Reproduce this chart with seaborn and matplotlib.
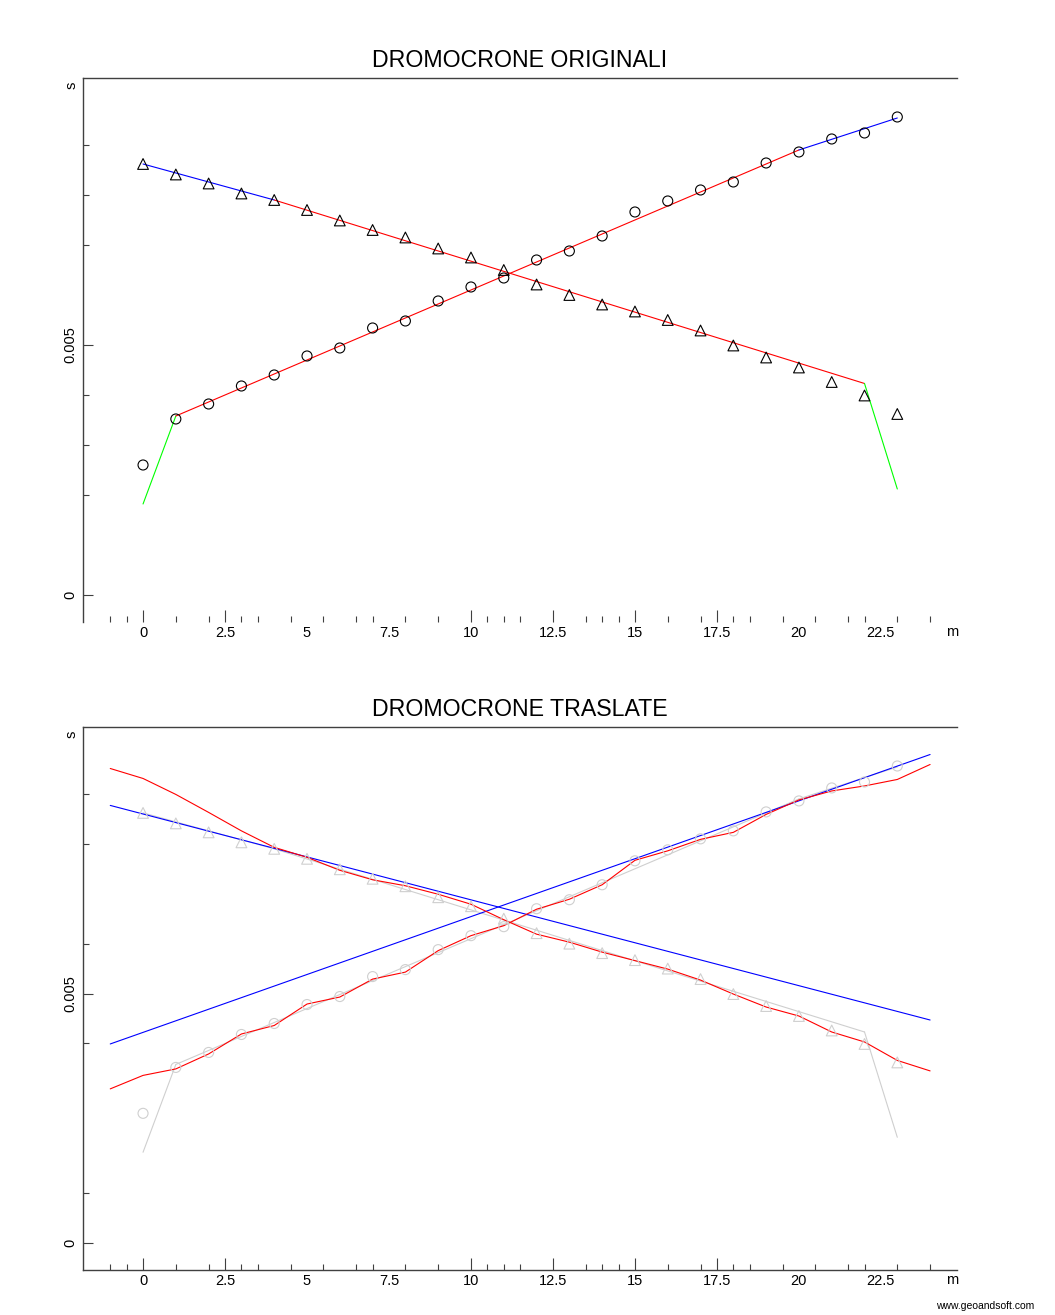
import seaborn as sns
import matplotlib.pyplot as plt

sns.set_theme(style="white")
plt.rcParams['font.family'] = ['Liberation Sans', 'DejaVu Sans']
plt.rcParams['text.color'] = 'black'

# tempi di primo arrivo (s), geofoni ogni 1 m
geofoni = list(range(24))
t_andata = [0.00260, 0.00352, 0.00382, 0.00418, 0.00440, 0.00478, 0.00494, 0.00534,
            0.00548, 0.00588, 0.00616, 0.00634, 0.00670, 0.00688, 0.00718, 0.00766,
            0.00788, 0.00810, 0.00826, 0.00864, 0.00886, 0.00912, 0.00924, 0.00956]
t_ritorno = [0.00862, 0.00841, 0.00823, 0.00803, 0.00790, 0.00770, 0.00749, 0.00730,
             0.00715, 0.00693, 0.00675, 0.00650, 0.00621, 0.00600, 0.00581, 0.00567,
             0.00550, 0.00529, 0.00499, 0.00475, 0.00455, 0.00426, 0.00399, 0.00362]

# segmenti interpolati (dromocrone originali)
and_x1, and_t1 = [0, 1], [0.00182, 0.00358]
and_x2, and_t2 = [1, 20], [0.00358, 0.00890]
and_x3, and_t3 = [20, 23], [0.00890, 0.00954]
rit_x1, rit_t1 = [0, 4], [0.00862, 0.00790]
rit_x2, rit_t2 = [4, 22], [0.00790, 0.00423]
rit_x3, rit_t3 = [22, 23], [0.00423, 0.00212]

# dromocrone traslate
x_trasl = list(range(-1, 25))
t_and_trasl = [0.00309, 0.00336, 0.00349, 0.00379, 0.00419, 0.00436, 0.00479, 0.00493,
               0.00529, 0.00543, 0.00586, 0.00616, 0.00636, 0.00669, 0.00689, 0.00718,
               0.00767, 0.00786, 0.00809, 0.00823, 0.00859, 0.00888, 0.00906, 0.00916,
               0.00929, 0.00959]
t_rit_trasl = [0.00951, 0.00931, 0.00899, 0.00863, 0.00826, 0.00793, 0.00773, 0.00747,
               0.00728, 0.00716, 0.00699, 0.00679, 0.00648, 0.00619, 0.00603, 0.00583,
               0.00566, 0.00549, 0.00527, 0.00499, 0.00473, 0.00455, 0.00423, 0.00403,
               0.00366, 0.00345]
retta_x = [-1, 24]
retta_andata = [0.00399, 0.00979]
retta_ritorno = [0.00877, 0.00447]

# assi
etichette_x = [0, 2.5, 5, 7.5, 10, 12.5, 15, 17.5, 20, 22.5]
tacche_lunghe = [0, 2.5, 10, 12.5, 15, 17.5]
minori_x = [-1, -0.5, 1, 2, 3, 3.5, 4.5, 5.5, 6.5, 7, 8, 9, 10.5, 11, 11.5, 13.5, 14,
            14.5, 16, 17, 18, 18.5, 19.5, 20.5, 21.5, 22, 23, 24]
minori_y_orig = [0.002, 0.003, 0.004, 0.007, 0.008, 0.009]
minori_y_trasl = [0.001, 0.004, 0.006, 0.008, 0.009]

GRIGIO_ASSI = '#404040'
FS = 10.5


def stile_assi(ax, titolo, minori_y, bordo_basso):
    ax.set_xlim(-1.83, 24.82)
    ax.set_ylim(-0.00054, 0.01034)
    ax.set_facecolor('white')
    for lato in ['top', 'left', 'bottom']:
        ax.spines[lato].set_color(GRIGIO_ASSI)
        ax.spines[lato].set_linewidth(1)
    ax.spines['right'].set_visible(False)
    ax.spines['bottom'].set_visible(bordo_basso)

    ax.set_xticks(etichette_x)
    ax.set_xticklabels([f"{v:g}" for v in etichette_x])
    ax.set_xticks(minori_x, minor=True)
    ax.set_yticks([0, 0.005])
    ax.set_yticklabels(['0', '0.005'], rotation=90, va='center')
    ax.set_yticks(minori_y, minor=True)

    ax.tick_params(axis='x', which='major', direction='in', length=8.6, width=0.8,
                   color=GRIGIO_ASSI, pad=3, labelsize=FS, labelcolor='black', bottom=True)
    ax.tick_params(axis='x', which='minor', direction='in', length=4.3, width=0.8,
                   color=GRIGIO_ASSI, bottom=True)
    ax.tick_params(axis='y', which='major', direction='in', length=7.2, width=0.8,
                   color=GRIGIO_ASSI, pad=4, labelsize=FS, labelcolor='black', left=True)
    ax.tick_params(axis='y', which='minor', direction='in', length=4.3, width=0.8,
                   color=GRIGIO_ASSI, left=True)
    for tick, v in zip(ax.xaxis.get_major_ticks(), etichette_x):
        if v not in tacche_lunghe:
            tick.tick1line.set_visible(False)

    ax.set_xlabel('')
    ax.set_ylabel('')
    ax.set_title(titolo, fontsize=16.7, pad=8, color='black')
    ax.text(-0.0126, 0.987, 's', transform=ax.transAxes, rotation=90,
            ha='center', va='center', fontsize=FS)
    ax.text(0.9943, -0.019, 'm', transform=ax.transAxes,
            ha='center', va='center', fontsize=FS)


def segmento(ax, x, y, colore, lw=0.8):
    sns.lineplot(x=x, y=y, color=colore, lw=lw, ax=ax, sort=False, estimator=None)


def punti(ax, colore):
    sns.scatterplot(x=geofoni, y=t_andata, marker='o', s=52, facecolor='none',
                    edgecolor=colore, linewidth=0.8, ax=ax, zorder=3)
    sns.scatterplot(x=geofoni, y=t_ritorno, marker='^', s=60, facecolor='none',
                    edgecolor=colore, linewidth=0.8, ax=ax, zorder=3)


fig = plt.figure(figsize=(10.55, 13.15), dpi=100)
fig.patch.set_facecolor('white')
ax1 = fig.add_axes([0.0787, 0.5270, 0.8284, 0.4137])
ax2 = fig.add_axes([0.0787, 0.0342, 0.8284, 0.4129])

# grafico 1: dromocrone originali
segmento(ax1, and_x1, and_t1, '#00ff00')
segmento(ax1, and_x2, and_t2, '#ff0000')
segmento(ax1, and_x3, and_t3, '#0000ff')
segmento(ax1, rit_x1, rit_t1, '#0000ff')
segmento(ax1, rit_x2, rit_t2, '#ff0000')
segmento(ax1, rit_x3, rit_t3, '#00ff00')
punti(ax1, 'black')
stile_assi(ax1, 'DROMOCRONE ORIGINALI', minori_y_orig, False)

# grafico 2: dromocrone traslate
grigio = '#cfcfcf'
for xs, ts in [(and_x1, and_t1), (and_x2, and_t2), (and_x3, and_t3),
               (rit_x1, rit_t1), (rit_x2, rit_t2), (rit_x3, rit_t3)]:
    segmento(ax2, xs, ts, grigio)
punti(ax2, grigio)
segmento(ax2, retta_x, retta_andata, '#0000ff')
segmento(ax2, retta_x, retta_ritorno, '#0000ff')
segmento(ax2, x_trasl, t_and_trasl, '#ff0000')
segmento(ax2, x_trasl, t_rit_trasl, '#ff0000')
stile_assi(ax2, 'DROMOCRONE TRASLATE', minori_y_trasl, True)

fig.text(0.934, 0.0068, 'www.geoandsoft.com', ha='center', va='center', fontsize=7.5)

plt.savefig('out.png', dpi=100, facecolor='white')
